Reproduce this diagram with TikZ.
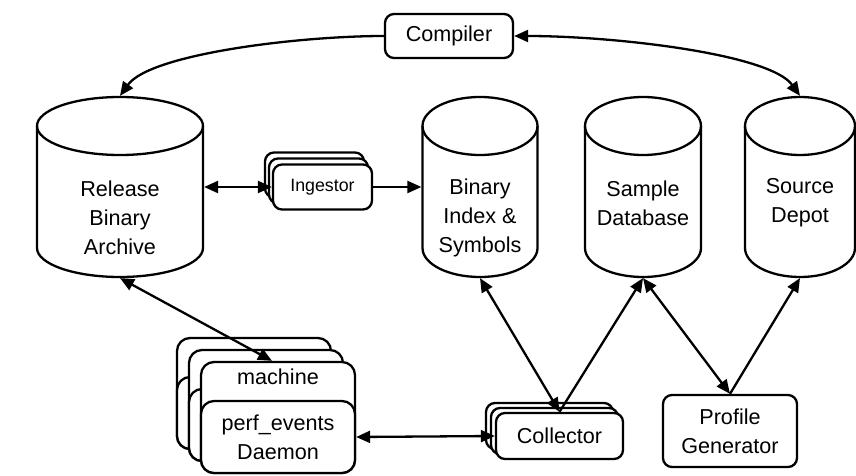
\documentclass[tikz,border=0pt]{standalone}
\usepackage{fontspec}
\setmainfont{Liberation Sans}
\usetikzlibrary{arrows.meta}
\newcommand\cyl[3]{%
  \node[cyl, minimum width=#3pt] (#1) at (#2,288) {};
  \draw[line, fill=white] ({#2-#3/2},349) -- ({#2-#3/2},227)
     arc[start angle=180,end angle=360,x radius=#3/2,y radius=29]
     -- ({#2+#3/2},349)
     arc[start angle=0,end angle=180,x radius=#3/2,y radius=29] -- cycle;
  \draw[line] ({#2-#3/2},349) arc[start angle=180,end angle=360,x radius=#3/2,y radius=29];}
\begin{document}
\begin{tikzpicture}[x=1pt,y=1pt,
  line/.style={line width=2.3pt},
  tip/.tip={Triangle[length=14pt,width=12pt]},
  arr/.style={line, -tip},
  darr/.style={line, tip-tip},
  cyl/.style={inner sep=0, outer sep=1.1pt, minimum height=180pt},
  lbl/.style={font=\fontsize{21.6}{29}\selectfont, align=center, inner sep=0},
  box/.style={draw, line, fill=white, rounded corners=9pt, inner sep=0,
     font=\fontsize{21.6}{29}\selectfont, align=center},
  mbox/.style={box, rounded corners=13pt, minimum width=154pt},
  ingbox/.style={box, minimum width=99pt, minimum height=45pt, font=\fontsize{17.8}{21}\selectfont},
  collbox/.style={box, minimum width=127pt, minimum height=46pt},
]
\useasboundingbox (0,0) rectangle (856,475);

% cylinders
\cyl{rba}{120}{166}
\cyl{bis}{480}{115}
\cyl{sdb}{643}{116}
\cyl{src}{800}{110}
\node[lbl] (rbat) at (120,257) {Release\\Binary\\Archive};
\node[lbl] (bist) at (480,257) {Binary\\Index \&\\Symbols};
\node[lbl] (sdbt) at (643,272) {Sample\\Database};
\node[lbl] (srct) at (800,272) {Source\\Depot};

% compiler
\node[box, minimum width=128pt, minimum height=44pt] (comp) at (449,439) {Compiler};

% ingestor stack
\node[ingbox] (ing3) at (314.5,300) {};
\node[ingbox] (ing2) at (318.5,294) {};
\node[ingbox] (ing) at (322.5,288) {Ingestor};

% machine stack
\node[mbox, minimum height=111pt] (m3o) at (254,81.5) {};
\node[mbox, minimum height=72pt] (m3i) at (254,62) {};
\node[mbox, minimum height=111pt] (m2o) at (266,69.5) {};
\node[mbox, minimum height=72pt] (m2i) at (266,50) {};
\node[mbox, minimum height=111pt] (mach) at (278,57.5) {};
\node[mbox, minimum height=72pt] (daemon) at (278,38) {perf\_events\\Daemon};
\node[lbl] (machlbl) at (278,98) {machine};

% collector stack
\node[collbox] (coll3) at (549.5,49) {};
\node[collbox] (coll2) at (554.5,44) {};
\node[collbox] (coll) at (559.5,39) {Collector};

% profile generator
\node[box, minimum width=134pt, minimum height=72pt] (pg) at (730,44) {Profile\\Generator};

% connectors
\draw[arr] (comp.west) .. controls +(-85,0) and +(30,42) .. (rba.north);
\draw[darr] (comp.east) .. controls +(100,0) and +(-30,42) .. (src.north);
\draw[darr] (rba.east) -- (ing.west);
\draw[arr] (ing.east) -- (bis.west);
\draw[darr] (rba.south) -- ([xshift=-6pt]mach.north);
\draw[darr] (daemon.east) -- (coll.west);
\draw[darr] (bis.south) -- (coll.north);
\draw[arr] (coll.north) -- (sdb.south);
\draw[darr] (sdb.south) -- (pg.north);
\draw[arr] (pg.north) -- (src.south);
\end{tikzpicture}
\end{document}
